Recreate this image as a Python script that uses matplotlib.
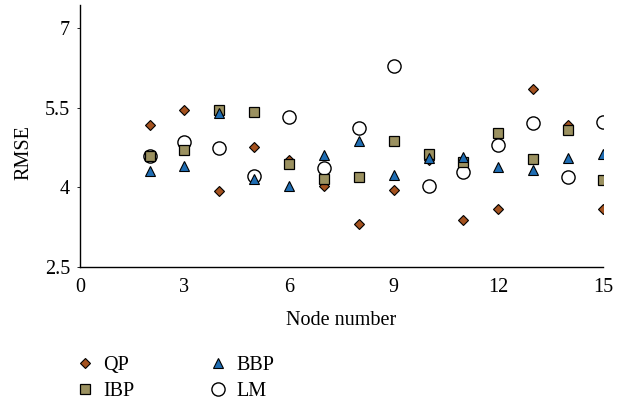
import numpy as np
import matplotlib.pyplot as plt

plt.rcParams['font.family'] = ['Liberation Serif', 'DejaVu Serif']

nodes = [2, 3, 4, 5, 6, 7, 8, 9, 10, 11, 12, 13, 14, 15]

# RMSE per method
qp = [5.17, 5.46, 3.93, 4.76, 4.52, 4.03, 3.30, 3.95, 4.52, 3.38, 3.60, 5.86, 5.17, 3.60]
ibp = [4.59, 4.71, 5.46, 5.42, 4.44, 4.15, 4.19, 4.88, 4.63, 4.48, 5.02, 4.54, 5.09, 4.14]
bbp = [4.31, 4.41, 5.40, 4.15, 4.03, 4.61, 4.87, 4.24, 4.55, 4.58, 4.39, 4.32, 4.56, 4.63]
lm = [4.59, 4.85, 4.75, 4.22, 5.32, 4.37, 5.11, 6.29, 4.02, 4.29, 4.80, 5.22, 4.19, 5.24]

xticks = [0, 3, 6, 9, 12, 15]
yticks = [2.5, 4, 5.5, 7]

fs = 14.5

fig = plt.figure(figsize=(6.19, 4.08), dpi=100)
ax = fig.add_axes([0.129, 0.346, 0.845, 0.642])

h_qp, = ax.plot(nodes, qp, 'D', ms=5, mfc='#a4521f', mec='black', mew=0.8, label='QP', zorder=3)
h_lm, = ax.plot(nodes, lm, 'o', ms=9.5, mfc='white', mec='black', mew=1.0, label='LM', zorder=4)
h_ibp, = ax.plot(nodes, ibp, 's', ms=6.5, mfc='#9b9160', mec='black', mew=0.9, label='IBP', zorder=5)
h_bbp, = ax.plot(nodes, bbp, '^', ms=7, mfc='#1f6db3', mec='black', mew=0.8, label='BBP', zorder=6)

ax.set_xlim(0, 15)
ax.set_ylim(2.5, 7.44)
ax.set_xticks(xticks)
ax.set_yticks(yticks)
ax.set_yticklabels(['2.5', '4', '5.5', '7'])
ax.tick_params(axis='both', labelsize=fs, length=2, width=0.6)
ax.tick_params(axis='x', length=0, pad=8)
ax.tick_params(axis='y', pad=5)
ax.spines['top'].set_visible(False)
ax.spines['right'].set_visible(False)
ax.spines['left'].set_linewidth(1.0)
ax.spines['bottom'].set_linewidth(1.0)

ax.set_xlabel('Node number', fontsize=fs, labelpad=10)
ax.set_ylabel('RMSE', fontsize=fs)
ax.yaxis.set_label_coords(-0.088, 0.435)

fig.legend(handles=[h_qp, h_ibp, h_bbp, h_lm], labels=['QP', 'IBP', 'BBP', 'LM'],
           ncol=2, frameon=False, fontsize=fs, loc='upper left',
           bbox_to_anchor=(0.128, 0.128), borderpad=0, borderaxespad=0,
           handlelength=0.6, handletextpad=0.6,
           columnspacing=3.85, labelspacing=0.35)

fig.savefig('out.png', dpi=100)
